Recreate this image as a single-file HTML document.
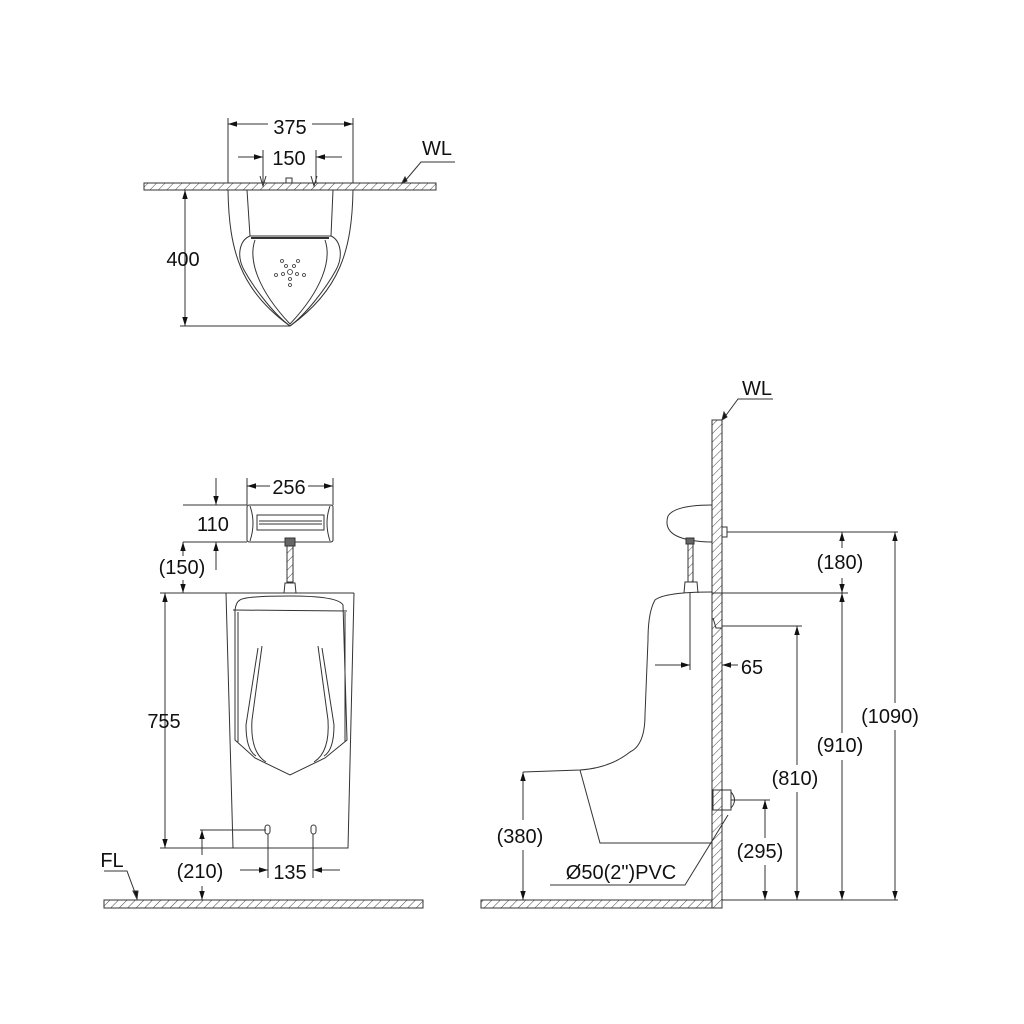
<!DOCTYPE html>
<html><head><meta charset="utf-8"><style>
html,body{margin:0;padding:0;background:#fff;}
svg{display:block;}
text{font-family:"Liberation Sans","DejaVu Sans",sans-serif;font-size:20px;fill:#111;}
</style></head><body>
<svg width="1024" height="1024" viewBox="0 0 1024 1024" xmlns="http://www.w3.org/2000/svg">
<defs>
<pattern id="h" width="6" height="6" patternUnits="userSpaceOnUse" patternTransform="rotate(45)">
<line x1="0" y1="0" x2="0" y2="6" stroke="#444" stroke-width="1"/>
</pattern>
<marker id="a" viewBox="0 0 10 10" refX="10" refY="5" markerWidth="9" markerHeight="9" orient="auto-start-reverse" markerUnits="userSpaceOnUse">
<path d="M0,2 L10,5 L0,8 z" fill="#111"/>
</marker>
</defs>
<g stroke="#333" stroke-width="1" fill="none">
<!-- TOP VIEW -->
<rect x="144" y="183" width="292" height="7" fill="url(#h)" stroke="#333"/>
<line x1="228" y1="118" x2="228" y2="183"/><line x1="353" y1="118" x2="353" y2="183"/>
<line x1="228" y1="124" x2="268" y2="124" marker-start="url(#a)"/>
<line x1="312" y1="124" x2="353" y2="124" marker-end="url(#a)"/>
<line x1="238" y1="157" x2="263" y2="157" marker-end="url(#a)"/>
<line x1="316" y1="157" x2="342" y2="157" marker-start="url(#a)"/>
<line x1="263" y1="150" x2="263" y2="183"/><line x1="316" y1="150" x2="316" y2="183"/>
<path d="M260,176 L263,186 L266,176 M311,176 L314,186 L317,176"/>
<rect x="286" y="178" width="6" height="5"/>
<path d="M228,190 C229,250 240,290 290,326 C340,290 352,250 353,190"/>
<path d="M247,190 L250,236 L331,236 L333,190"/>
<line x1="251" y1="238" x2="329" y2="238" stroke-width="2"/>
<path d="M250,236 C240,240 236,255 244,270 C255,290 275,315 290,326 C305,315 325,290 336,270 C344,255 340,240 331,236"/>
<path d="M255,240 C248,260 258,290 290,324 C322,290 332,260 325,240"/>
<g stroke-width="0.8">
<circle cx="290" cy="272" r="2.5"/>
<circle cx="282" cy="261" r="1.5"/><circle cx="298" cy="261" r="1.5"/>
<circle cx="286" cy="266" r="1.5"/><circle cx="294" cy="266" r="1.5"/>
<circle cx="276" cy="275" r="1.5"/><circle cx="283" cy="274" r="1.5"/><circle cx="297" cy="274" r="1.5"/><circle cx="304" cy="275" r="1.5"/>
<circle cx="290" cy="279" r="1.5"/><circle cx="290" cy="285" r="1.5"/>
</g>
<line x1="185" y1="190" x2="185" y2="326" marker-start="url(#a)" marker-end="url(#a)"/>
<line x1="180" y1="326" x2="290" y2="326"/>
<path d="M405,181 L421,162 L455,162"/>
<path d="M402,183 l3,-6 l2,4 z" fill="#111"/>

<!-- FRONT VIEW -->
<rect x="104" y="900" width="319" height="8" fill="url(#h)" stroke="#333"/>
<path d="M104,871 L127,871 L137,898" /><path d="M133,891 l4,8 l1,-8 z" fill="#111"/>
<path d="M247,507 Q247,505 250,505 L330,505 Q333,505 333,507 L333,540 Q333,542 330,542 L250,542 Q247,542 247,540 Z"/>
<path d="M250,506 Q256,523 250,541 M330,506 Q324,523 330,541"/>
<rect x="257" y="515" width="67" height="15"/><line x1="259" y1="521" x2="322" y2="521"/><line x1="259" y1="524" x2="322" y2="524"/>
<line x1="247" y1="478" x2="247" y2="505"/><line x1="333" y1="478" x2="333" y2="505"/>
<line x1="247" y1="486" x2="270" y2="486" marker-start="url(#a)"/>
<line x1="308" y1="486" x2="333" y2="486" marker-end="url(#a)"/>
<line x1="183" y1="505" x2="247" y2="505"/><line x1="183" y1="542" x2="247" y2="542"/>
<line x1="216" y1="478" x2="216" y2="505" marker-end="url(#a)"/>
<line x1="216" y1="570" x2="216" y2="542" marker-end="url(#a)"/>
<line x1="183" y1="542" x2="183" y2="556" marker-start="url(#a)"/>
<line x1="183" y1="580" x2="183" y2="593" marker-end="url(#a)"/>
<rect x="285" y="538" width="10" height="8" fill="#666"/>
<rect x="287" y="546" width="6" height="36" fill="url(#h)"/>
<path d="M284,593 L285,583 L295,583 L296,593"/>
<line x1="160" y1="593" x2="354" y2="593"/>
<path d="M226,593 L233,848 L348,848 L354,593"/>
<path d="M240,600 Q245,596 290,596 Q338,596 343,605 L347,740 L325,758 L290,775 L255,758 L235,740 L235,610 Q236,602 240,600 Z"/>
<path d="M233,610 L347,611"/>
<path d="M238,742 L238,612 M345,742 L345,612"/>
<path d="M262,646 L252,720 Q250,752 266,762 M258,648 L246,725 Q246,750 256,756"/>
<path d="M318,646 L328,720 Q330,752 314,762 M322,648 L334,725 Q334,750 324,756"/>
<rect x="265" y="825" width="5" height="9" rx="2.5"/><rect x="311" y="825" width="5" height="9" rx="2.5"/>
<line x1="160" y1="848" x2="233" y2="848"/>
<line x1="165" y1="593" x2="165" y2="848" marker-start="url(#a)" marker-end="url(#a)"/>
<line x1="200" y1="830" x2="266" y2="830"/>
<line x1="202" y1="830" x2="202" y2="855" marker-start="url(#a)"/>
<line x1="202" y1="886" x2="202" y2="900" marker-end="url(#a)"/>
<line x1="268" y1="834" x2="268" y2="878"/><line x1="313" y1="834" x2="313" y2="878"/>
<line x1="240" y1="870" x2="268" y2="870" marker-end="url(#a)"/>
<line x1="340" y1="870" x2="313" y2="870" marker-end="url(#a)"/>

<!-- SIDE VIEW -->
<rect x="712" y="420" width="10" height="488" fill="url(#h)" stroke="#333"/>
<rect x="481" y="900" width="231" height="8" fill="url(#h)" stroke="#333"/>
<path d="M724,418 L738,399 L773,399"/><path d="M722,420 l2,-8 l3,5 z" fill="#111"/>
<path d="M712,505 Q675,505 668,516 Q662,535 690,540 Q700,542 712,542"/>
<rect x="722" y="527" width="5" height="10"/>
<line x1="727" y1="532" x2="898" y2="532"/>
<rect x="686" y="538" width="8" height="6" fill="#666"/>
<rect x="688" y="544" width="5" height="38" fill="url(#h)"/>
<path d="M684,593 L685,582 L697,582 L698,593"/>
<path d="M712,592 Q665,592 655,600 Q648,612 648,640 L645,715 Q645,745 630,752 Q610,768 580,770 L523,772"/>
<path d="M580,770 L600,843 L712,843"/>
<line x1="712" y1="593" x2="848" y2="593"/>
<line x1="690" y1="593" x2="690" y2="670"/>
<line x1="655" y1="665" x2="690" y2="665" marker-end="url(#a)"/>
<line x1="738" y1="665" x2="722" y2="665" marker-end="url(#a)"/>
<path d="M713,618 L716,628 L722,628"/>
<line x1="722" y1="626" x2="802" y2="626"/>
<rect x="713" y="790" width="18" height="20"/><path d="M731,792 Q738,800 731,808"/>
<line x1="731" y1="800" x2="770" y2="800"/>
<line x1="722" y1="900" x2="898" y2="900"/>
<line x1="842" y1="532" x2="842" y2="548" marker-start="url(#a)"/>
<line x1="842" y1="578" x2="842" y2="593" marker-end="url(#a)"/>
<line x1="842" y1="593" x2="842" y2="733" marker-start="url(#a)"/>
<line x1="842" y1="760" x2="842" y2="900" marker-end="url(#a)"/>
<line x1="895" y1="532" x2="895" y2="703" marker-start="url(#a)"/>
<line x1="895" y1="730" x2="895" y2="900" marker-end="url(#a)"/>
<line x1="797" y1="626" x2="797" y2="765" marker-start="url(#a)"/>
<line x1="797" y1="792" x2="797" y2="900" marker-end="url(#a)"/>
<line x1="765" y1="800" x2="765" y2="838" marker-start="url(#a)"/>
<line x1="765" y1="865" x2="765" y2="900" marker-end="url(#a)"/>
<line x1="523" y1="772" x2="523" y2="820" marker-start="url(#a)"/>
<line x1="523" y1="850" x2="523" y2="900" marker-end="url(#a)"/>
<path d="M550,885 L685,885 L728,815"/>
</g>
<g text-anchor="middle">
<text x="290" y="134">375</text>
<text x="289" y="165">150</text>
<text x="437" y="155">WL</text>
<text x="183" y="266">400</text>
<text x="289" y="494">256</text>
<text x="213" y="531">110</text>
<text x="182" y="574">(150)</text>
<text x="164" y="728">755</text>
<text x="200" y="878">(210)</text>
<text x="290" y="879">135</text>
<text x="112" y="867">FL</text>
<text x="757" y="395">WL</text>
<text x="840" y="569">(180)</text>
<text x="752" y="674">65</text>
<text x="890" y="723">(1090)</text>
<text x="840" y="752">(910)</text>
<text x="795" y="785">(810)</text>
<text x="760" y="858">(295)</text>
<text x="520" y="843">(380)</text>
<text x="621" y="879">Ø50(2")PVC</text>
</g>
</svg>
</body></html>
